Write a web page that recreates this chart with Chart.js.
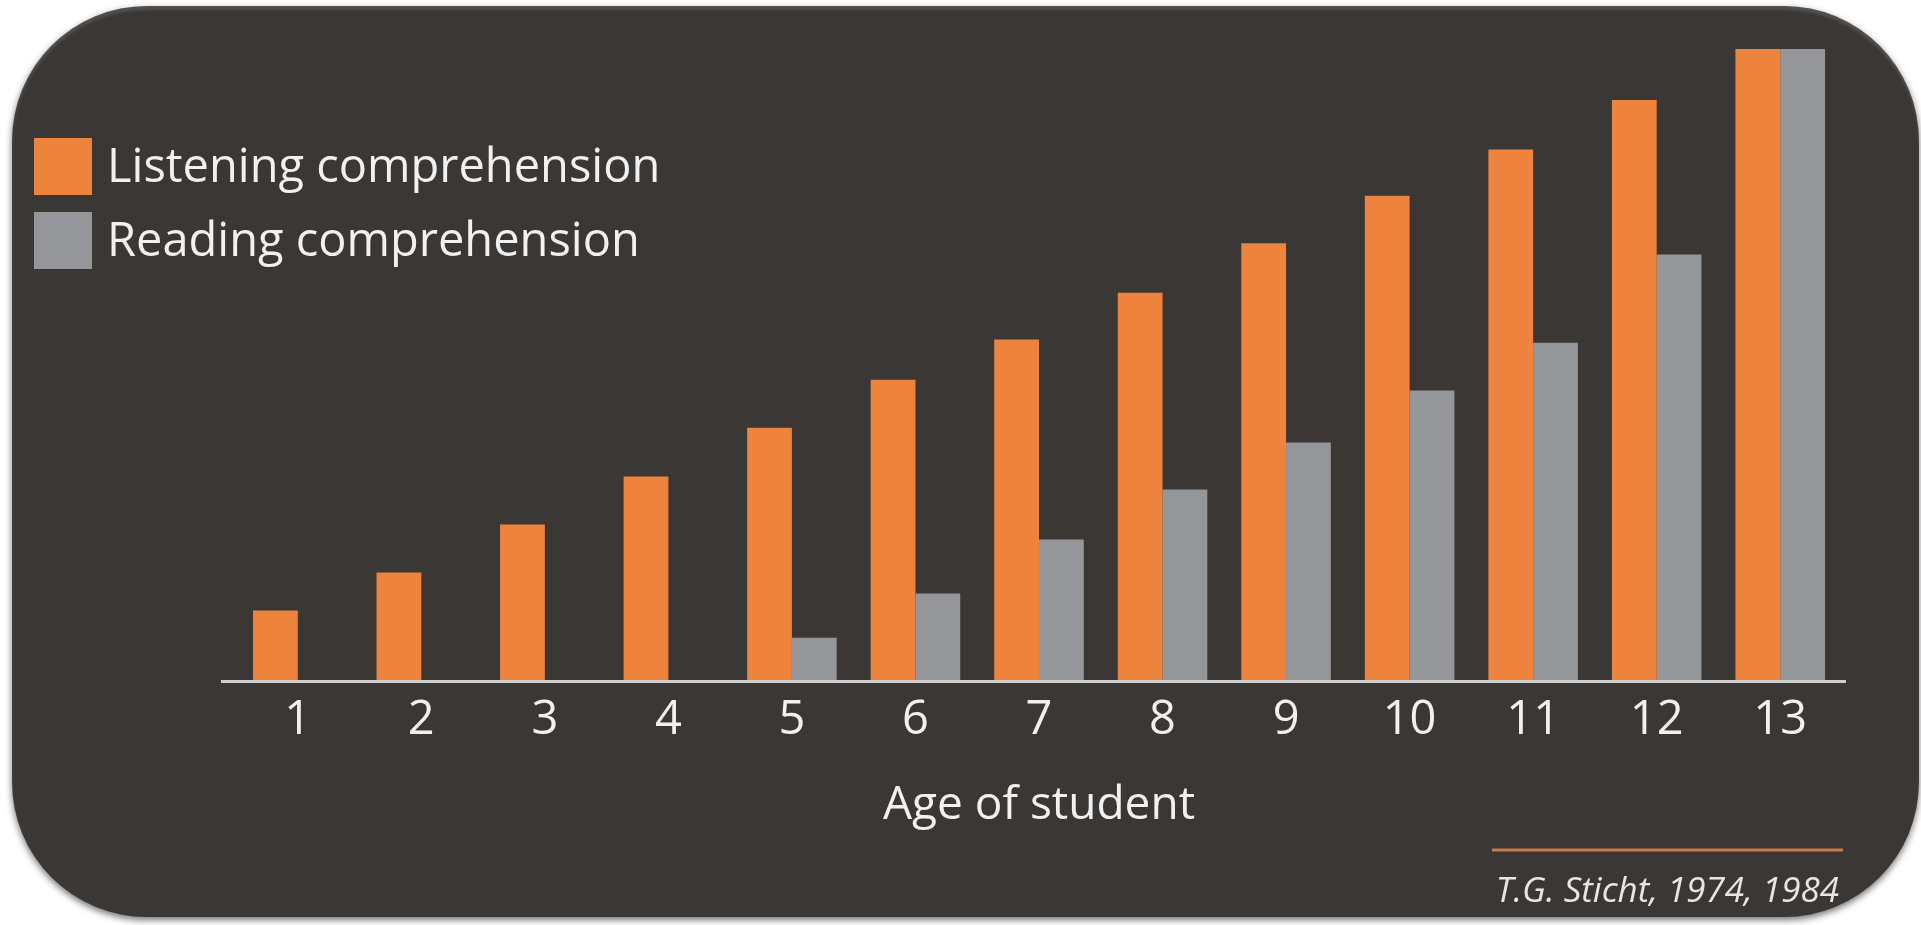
<!DOCTYPE html>
<html>
<head>
<meta charset="utf-8">
<script src="https://cdn.jsdelivr.net/npm/chart.js@4.4.1/dist/chart.umd.min.js"></script>
<style>
  html, body { margin: 0; padding: 0; background: #fff; overflow: hidden; }
  #panel {
    position: absolute; left: 12px; top: 6px; width: 1907px; height: 911px;
    background: #3a3735; border-radius: 135px;
    box-shadow: 0 3px 7px rgba(0,0,0,0.55), inset 0 4px 3px rgba(255,255,255,0.13);
  }
  #wrap { position: absolute; left: 0; top: 0; width: 1921px; height: 925px; }
</style>
</head>
<body>
<div id="panel"></div>
<div id="wrap"><canvas id="myChart"></canvas></div>
<script>
// ages on the x axis
var ages = ['1', '2', '3', '4', '5', '6', '7', '8', '9', '10', '11', '12', '13'];
// comprehension level (13 = top of the chart)
var listening = [1.44, 2.22, 3.21, 4.2, 5.2, 6.19, 7.02, 7.98, 9.0, 9.98, 10.93, 11.95, 13];
var reading = [null, null, null, null, 0.88, 1.79, 2.9, 3.93, 4.9, 5.97, 6.95, 8.77, 13];
var seriesNames = ['Listening comprehension', 'Reading comprehension'];
var axisTitle = 'Age of student';
var sourceText = 'T.G. Sticht, 1974, 1984';

var ORANGE = '#ee833e';
var GREY = '#949699';
var TEXT = '#f1f1f1';

Chart.defaults.font.family = "'Open Sans', 'Noto Sans', sans-serif";

// legend + axis line + source note, drawn on the canvas
var extras = {
    id: 'extras',
    afterDraw: function (chart) {
        var ctx = chart.ctx;
        var area = chart.chartArea;
        ctx.save();

        // x axis line
        ctx.strokeStyle = '#cfcfcf';
        ctx.lineWidth = 3;
        ctx.beginPath();
        ctx.moveTo(area.left - 15, area.bottom + 1);
        ctx.lineTo(area.right + 4, area.bottom + 1);
        ctx.stroke();

        // legend top left
        ctx.font = "47px 'Open Sans'";
        ctx.textBaseline = 'middle';
        ctx.textAlign = 'left';
        chart.data.datasets.forEach(function (ds, i) {
            var y = 138 + i * 74;
            ctx.fillStyle = ds.backgroundColor;
            ctx.fillRect(34, y, 58, 57);
            ctx.fillStyle = TEXT;
            ctx.fillText(ds.label, 107, y + 31);
        });

        // source line and text
        ctx.strokeStyle = '#c9794a';
        ctx.lineWidth = 3;
        ctx.beginPath();
        ctx.moveTo(1492, 850);
        ctx.lineTo(1843, 850);
        ctx.stroke();
        ctx.font = "italic 35px 'Open Sans'";
        ctx.textAlign = 'right';
        ctx.textBaseline = 'alphabetic';
        ctx.fillStyle = '#e6e6e6';
        ctx.fillText(sourceText, 1839, 902);
        ctx.restore();
    }
};

var ctx = document.getElementById('myChart').getContext('2d');
var chart = new Chart(ctx, {
    type: 'bar',
    data: {
        labels: ages,
        datasets: [{
            label: seriesNames[0],
            data: listening,
            backgroundColor: ORANGE,
            borderWidth: 0
        }, {
            label: seriesNames[1],
            data: reading,
            backgroundColor: GREY,
            borderWidth: 0
        }]
    },
    options: {
        responsive: true,
        maintainAspectRatio: false,
        animation: false,
        datasets: {
            bar: { categoryPercentage: 0.725, barPercentage: 1 }
        },
        layout: {
            padding: { left: 236, right: 79, top: 49, bottom: 92 }
        },
        plugins: {
            legend: { display: false },
            tooltip: { enabled: false }
        },
        scales: {
            x: {
                grid: { display: false, drawTicks: false },
                border: { display: false },
                ticks: {
                    color: TEXT,
                    font: { size: 47 },
                    padding: 12,
                    maxRotation: 0,
                    autoSkip: false
                },
                title: {
                    display: true,
                    text: axisTitle,
                    color: TEXT,
                    font: { size: 46 },
                    padding: { top: 17, bottom: 0 }
                }
            },
            y: {
                display: false,
                min: 0,
                max: 13
            }
        }
    },
    plugins: [extras]
});
</script>
</body>
</html>
